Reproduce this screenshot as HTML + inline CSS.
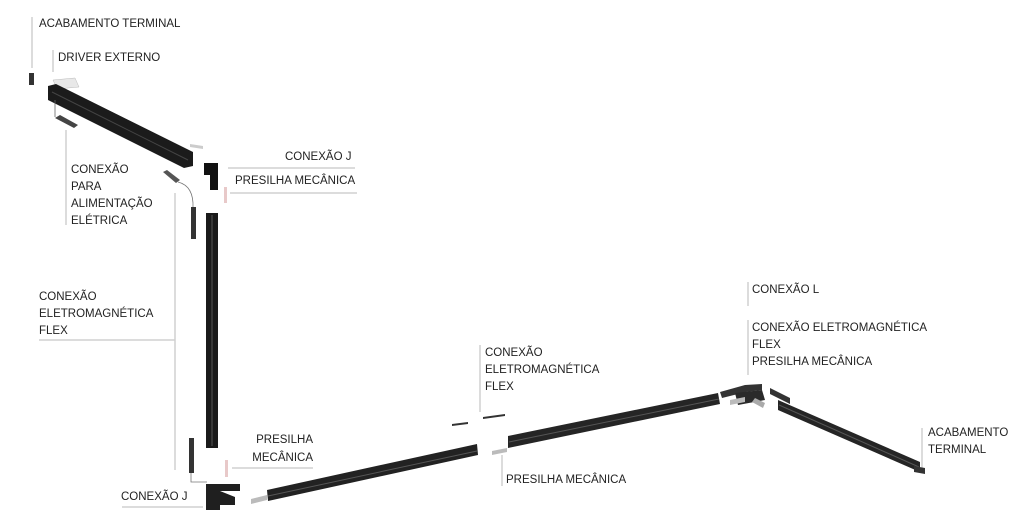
<!DOCTYPE html>
<html><head><meta charset="utf-8"><style>
html,body{margin:0;padding:0;background:#fff;}
svg{display:block}
text{font-family:"Liberation Sans",sans-serif;font-size:11.5px;fill:#222;}
.l{stroke:#d0d0d0;stroke-width:1.5;fill:none}
</style></head><body>
<svg width="1020" height="520" viewBox="0 0 1020 520" xmlns="http://www.w3.org/2000/svg">
<!-- leader lines -->
<path class="l" d="M32 17V68 M53 50V72 M66 130V225 M228 168H355 M230 193H357 M39 340H175 M175 193V470 M232 468H313 M122 507H203 M480 345V412 M502 455V486 M748 282V306 M748 320V375 M922 428V468"/>
<!-- labels -->
<text x="39" y="27">ACABAMENTO TERMINAL</text>
<text x="58" y="61">DRIVER EXTERNO</text>
<text x="71" y="173">CONEXÃO</text><text x="71" y="190">PARA</text><text x="71" y="207">ALIMENTAÇÃO</text><text x="71" y="224">ELÉTRICA</text>
<text x="285" y="160">CONEXÃO J</text>
<text x="235" y="184">PRESILHA MECÂNICA</text>
<text x="39" y="300">CONEXÃO</text><text x="39" y="317">ELETROMAGNÉTICA</text><text x="39" y="334">FLEX</text>
<text x="313" y="443" text-anchor="end">PRESILHA</text><text x="313" y="461" text-anchor="end">MECÂNICA</text>
<text x="121" y="500">CONEXÃO J</text>
<text x="485" y="356">CONEXÃO</text><text x="485" y="373">ELETROMAGNÉTICA</text><text x="485" y="390">FLEX</text>
<text x="506" y="483">PRESILHA MECÂNICA</text>
<text x="752" y="293">CONEXÃO L</text>
<text x="752" y="331">CONEXÃO ELETROMAGNÉTICA</text><text x="752" y="348">FLEX</text><text x="752" y="365">PRESILHA MECÂNICA</text>
<text x="928" y="436">ACABAMENTO</text><text x="928" y="453">TERMINAL</text>
<!-- top left parts -->
<rect x="29" y="73" width="5" height="12" fill="#333"/>
<polygon points="53,80 75,78 79,87 57,89" fill="#e8e8e8" stroke="#bbb" stroke-width="0.5"/>
<polygon points="48,86 56,84 193,152 193,166 184,168 48,100" fill="#1b1b1b"/>
<line x1="52" y1="92" x2="188" y2="160" stroke="#444" stroke-width="1"/>
<polygon points="55,118 60,115 78,125 74,128" fill="#444"/>
<line x1="55" y1="100" x2="55" y2="117" stroke="#666" stroke-width="0.8"/>
<polygon points="190,144 203,146 203,149 190,147" fill="#ccc"/>
<polygon points="163,172 167,170 180,180 176,183" fill="#555"/>
<path d="M178 182 Q194 186 193 208" stroke="#777" fill="none" stroke-width="0.8"/>
<rect x="191" y="207" width="5" height="32" fill="#333"/>
<polygon points="204,163 218,163 218,190 210,190 210,175 204,175" fill="#111"/>
<rect x="224" y="187" width="3" height="16" fill="#e8c9c9"/>
<rect x="206" y="213" width="12" height="235" fill="#1a1a1a"/>
<line x1="212" y1="215" x2="212" y2="446" stroke="#555"/>
<!-- bottom left -->
<rect x="189" y="438" width="5" height="35" fill="#333"/>
<path d="M191 473 V482 H207" stroke="#777" fill="none" stroke-width="0.8"/>
<rect x="225" y="460" width="3" height="17" fill="#e8c9c9"/>
<polygon points="206,484 240,484 240,491 220,491 235,497 235,505 220,505 220,510 206,510" fill="#1f1f1f"/>
<polygon points="251,499 267,495 267,500 251,504" fill="#bbb"/>
<polygon points="267,490 477,444 478,455 268,501" fill="#222"/>
<line x1="268" y1="496" x2="477" y2="451" stroke="#555"/>
<!-- mid -->
<polygon points="452,424 468,422 468,424 452,426" fill="#333"/>
<polygon points="483,417 505,414 505,416 483,419" fill="#333"/>
<polygon points="492,451 507,448 507,452 492,455" fill="#bbb"/>
<polygon points="508,436 718,393 720,404 508,448" fill="#252525"/>
<line x1="509" y1="442" x2="719" y2="399" stroke="#555"/>
<!-- L corner -->
<polygon points="720,392 745,385 762,384 762,390 746,392 722,398" fill="#333"/>
<polygon points="735,393 762,390 765,400 738,405" fill="#2a2a2a"/>
<polygon points="730,400 745,397 745,402 730,405" fill="#bbb"/>
<polygon points="755,398 765,403 763,408 752,402" fill="#aaa"/>
<polygon points="770,388 790,398 790,404 770,394" fill="#333"/>
<polygon points="778,400 920,462 920,472 778,410" fill="#252525"/>
<line x1="779" y1="405" x2="919" y2="467" stroke="#555"/>
<polygon points="914,466 925,468 925,474 914,472" fill="#333"/>
</svg>
</body></html>
